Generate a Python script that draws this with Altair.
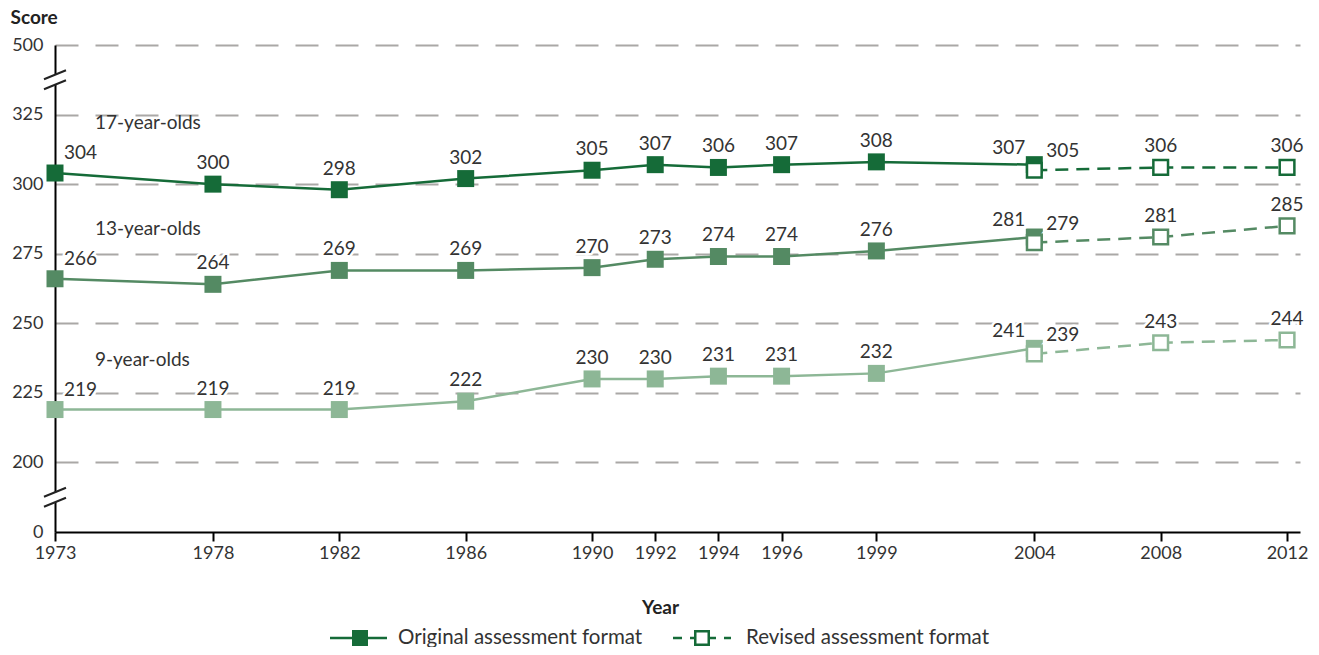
import altair as alt
import pandas as pd

# ---- data ----
ages = ["17-year-olds", "13-year-olds", "9-year-olds"]
years_orig = [1973, 1978, 1982, 1986, 1990, 1992, 1994, 1996, 1999, 2004]
s17_orig = [304, 300, 298, 302, 305, 307, 306, 307, 308, 307]
s13_orig = [266, 264, 269, 269, 270, 273, 274, 274, 276, 281]
s9_orig = [219, 219, 219, 222, 230, 230, 231, 231, 232, 241]
years_rev = [2004, 2008, 2012]
s17_rev = [305, 306, 306]
s13_rev = [279, 281, 285]
s9_rev = [239, 243, 244]
formats = ["Original assessment format", "Revised assessment format"]
tick_years = [1973, 1978, 1982, 1986, 1990, 1992, 1994, 1996, 1999, 2004, 2008, 2012]
y_tick_labels = ["0", "200", "225", "250", "275", "300", "325", "500"]

DARK, MID, LIGHT = "#156b38", "#548a63", "#8db796"
TXT = "#333333"
FONT = "Lato"

rows = []
for age, so, sr in zip(ages, [s17_orig, s13_orig, s9_orig], [s17_rev, s13_rev, s9_rev]):
    for y, s in zip(years_orig, so):
        rows.append({"year": y, "score": s, "age": age, "fmt": formats[0]})
    for y, s in zip(years_rev, sr):
        rows.append({"year": y, "score": s, "age": age, "fmt": formats[1]})
df = pd.DataFrame(rows)

# broken axis: 0 -> 0, 200..325 linear (1..6), 500 -> 7
base = alt.Chart(df).transform_calculate(
    disp="1 + (datum.score - 200) / 25"
)

x_enc = alt.X(
    "year:Q",
    scale=alt.Scale(domain=[1973, 2012.41], nice=False, zero=False),
    axis=alt.Axis(
        values=tick_years, format="d", grid=False, title="Year",
        labelFlush=False, labelOverlap=False,
        tickSize=9, tickWidth=2, tickColor="black",
        domainColor="black", domainWidth=2,
        labelPadding=3, labelFontSize=18, labelColor=TXT, labelFont=FONT,
        titleFont=FONT, titleFontSize=19, titleFontWeight="bold", titleColor="#222",
        titleX=605, titleY=81, titleBaseline="alphabetic", titleAlign="center",
    ),
)
y_enc = alt.Y(
    "disp:Q",
    scale=alt.Scale(domain=[0, 7], nice=False, zero=False),
    axis=alt.Axis(
        values=list(range(8)),
        labelExpr="['" + "','".join(y_tick_labels) + "'][datum.value]",
        ticks=False, domainColor="black", domainWidth=2,
        grid=True, gridDash=[23, 17], gridColor="#aaa8a6", gridWidth=2,
        gridOpacity={"condition": {"test": "datum.value === 0", "value": 0}, "value": 1},
        labelPadding=12, labelFontSize=18, labelColor=TXT, labelFont=FONT,
        title="Score", titleAngle=0, titleAlign="left", titleBaseline="alphabetic",
        titleX=-45, titleY=-22, titleFont=FONT, titleFontSize=19,
        titleFontWeight="bold", titleColor="#222",
    ),
)
color_enc = alt.Color("age:N", scale=alt.Scale(domain=ages, range=[DARK, MID, LIGHT]), legend=None)

is_orig = f"datum.fmt == '{formats[0]}'"
is_rev = f"datum.fmt == '{formats[1]}'"

line_orig = base.transform_filter(is_orig).mark_line(strokeWidth=2.5).encode(
    x=x_enc, y=y_enc, color=color_enc, detail="age:N")
line_rev = base.transform_filter(is_rev).mark_line(strokeWidth=2.5, strokeDash=[13, 8]).encode(
    x="year:Q", y="disp:Q", color=color_enc, detail="age:N")
pts_orig = base.transform_filter(is_orig).mark_point(
    shape="square", filled=True, size=289, opacity=1).encode(
    x="year:Q", y="disp:Q", color=color_enc)
pts_rev = base.transform_filter(is_rev).mark_point(
    shape="square", filled=False, fill="white", size=215, strokeWidth=2.5, opacity=1).encode(
    x="year:Q", y="disp:Q", stroke=color_enc)


def labels(filt, **kw):
    halo = base.transform_filter(filt).mark_text(
        font=FONT, fontSize=19, stroke="white", strokeWidth=5, fill="white",
        baseline="middle", **kw).encode(x="year:Q", y="disp:Q", text="score:Q")
    txt = base.transform_filter(filt).mark_text(
        font=FONT, fontSize=19, color=TXT, baseline="middle", **kw).encode(
        x="year:Q", y="disp:Q", text="score:Q")
    return [halo, txt]


lab_mid = labels("datum.year != 1973 && datum.year != 2004", align="center", dy=-21)
lab_first = labels("datum.year == 1973", align="left", dx=9, dy=-20)
lab_2004o = labels(f"datum.year == 2004 && {is_orig}", align="right", dx=-9, dy=-17)
lab_2004r = labels(f"datum.year == 2004 && {is_rev}", align="left", dx=12, dy=-19)

group_lab = base.transform_filter(f"datum.year == 1973 && {is_orig}").mark_text(
    font=FONT, fontSize=19, color=TXT, align="left", baseline="middle", dx=40, dy=-50
).encode(x="year:Q", y="disp:Q", text="age:N")

# axis-break marks
breaks = alt.Chart(pd.DataFrame({"b": [0.5, 6.5]}))
gap = breaks.mark_rect(color="white", yOffset=-5, y2Offset=5).encode(
    x=alt.value(-4), x2=alt.value(4), y="b:Q", y2="b:Q")
slash1 = breaks.mark_rule(color="#222", strokeWidth=2, yOffset=-0.5, y2Offset=-9.5).encode(
    x=alt.value(-11), x2=alt.value(11), y="b:Q", y2="b:Q")
slash2 = breaks.mark_rule(color="#222", strokeWidth=2, yOffset=9.5, y2Offset=0.5).encode(
    x=alt.value(-11), x2=alt.value(11), y="b:Q", y2="b:Q")

# hand-built legend below the plot
leg = alt.Chart(pd.DataFrame({"fmt": formats}))
LY = 593
leg_line0 = leg.transform_filter(is_orig).mark_rule(color=DARK, strokeWidth=2.5).encode(
    x=alt.value(275), x2=alt.value(332), y=alt.value(LY), y2=alt.value(LY))
leg_sq0 = leg.transform_filter(is_orig).mark_point(
    shape="square", filled=True, color=DARK, size=256, opacity=1).encode(
    x=alt.value(305), y=alt.value(LY))
leg_txt0 = leg.transform_filter(is_orig).mark_text(
    font=FONT, fontSize=20.5, color=TXT, align="left", baseline="alphabetic").encode(
    x=alt.value(343), y=alt.value(LY + 6), text="fmt:N")
leg_line1 = leg.transform_filter(is_rev).mark_rule(
    color=DARK, strokeWidth=2.5, strokeDash=[9, 8]).encode(
    x=alt.value(618), x2=alt.value(676), y=alt.value(LY), y2=alt.value(LY))
leg_sq1 = leg.transform_filter(is_rev).mark_point(
    shape="square", filled=False, fill="white", stroke=DARK, strokeWidth=2.5,
    size=182, opacity=1).encode(x=alt.value(647), y=alt.value(LY))
leg_txt1 = leg.transform_filter(is_rev).mark_text(
    font=FONT, fontSize=20.5, color=TXT, align="left", baseline="alphabetic").encode(
    x=alt.value(691), y=alt.value(LY + 6), text="fmt:N")

chart = alt.layer(
    line_orig, line_rev, pts_orig, pts_rev,
    *lab_mid, *lab_first, *lab_2004o, *lab_2004r, group_lab,
    gap, slash1, slash2,
    leg_line0, leg_sq0, leg_txt0, leg_line1, leg_sq1, leg_txt1,
).resolve_scale(color="independent", stroke="independent").properties(
    width=1245, height=487,
    autosize=alt.AutoSizeParams(type="none"),
    padding={"left": 47, "top": 37, "right": 11, "bottom": 115},
).configure_view(stroke=None)

chart.save("out.html", embed_options={"renderer": "svg", "actions": False})
